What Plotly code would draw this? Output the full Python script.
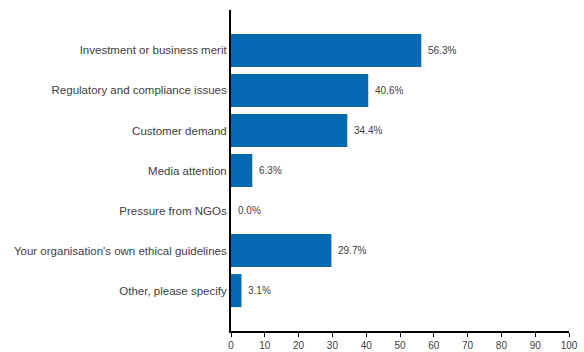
import plotly.graph_objects as go

categories = [
    "Investment or business merit",
    "Regulatory and compliance issues",
    "Customer demand",
    "Media attention",
    "Pressure from NGOs",
    "Your organisation's own ethical guidelines",
    "Other, please specify",
]
values = [56.3, 40.6, 34.4, 6.3, 0.0, 29.7, 3.1]
x_ticks = [0, 10, 20, 30, 40, 50, 60, 70, 80, 90, 100]

FONT = "Liberation Sans, Arial, sans-serif"
TXT = "#404040"

fig = go.Figure(
    go.Bar(
        x=values,
        y=categories,
        orientation="h",
        marker=dict(color="#0568B2", line=dict(width=0)),
        hoverinfo="x+y",
    )
)

for cat, v in zip(categories, values):
    fig.add_annotation(
        x=v, y=cat, xref="x", yref="y",
        text=f"{v:.1f}%",
        showarrow=False,
        xanchor="left",
        xshift=5,
        font=dict(family=FONT, size=10, color=TXT),
    )

fig.update_layout(
    width=584,
    height=352,
    margin=dict(l=231, r=15, t=10, b=21, autoexpand=False),
    paper_bgcolor="white",
    plot_bgcolor="white",
    bargap=0.175,
    showlegend=False,
    font=dict(family=FONT, size=11, color=TXT),
    xaxis=dict(
        range=[0, 100],
        tickvals=x_ticks,
        ticktext=[str(t) for t in x_ticks],
        showgrid=False,
        zeroline=False,
        showline=True,
        linecolor="black",
        linewidth=2,
        ticks="outside",
        ticklen=4,
        tickwidth=1,
        tickcolor="black",
        tickfont=dict(family=FONT, size=10, color=TXT),
    ),
    yaxis=dict(
        type="category",
        categoryorder="array",
        categoryarray=categories,
        range=[7.01, -1.01],
        showgrid=False,
        zeroline=False,
        showline=True,
        linecolor="black",
        linewidth=2,
        ticks="",
        ticklabelstandoff=0,
        tickfont=dict(family=FONT, size=11.5, color=TXT),
    ),
)

fig.write_html(
    "out.html",
    config={"displayModeBar": False},
    post_script="document.body.style.margin='0';document.body.style.overflow='hidden';",
)
